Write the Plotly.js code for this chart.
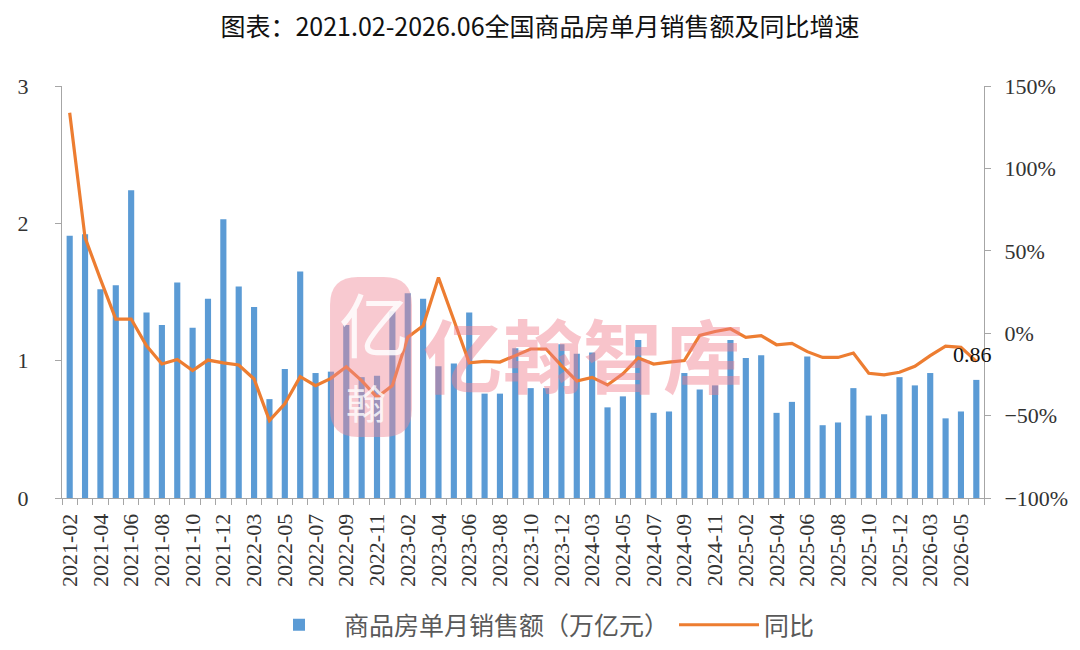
<!DOCTYPE html>
<html>
<head>
<meta charset="utf-8">
<script src="https://cdn.plot.ly/plotly-3.0.1.min.js"></script>
<style>html,body{margin:0;padding:0;background:#fff;}#chart{width:1080px;height:650px;}</style>
</head>
<body>
<div id="chart"></div>
<script>
// Categories (January merged into February, as in the source)
const months = [
  "2021-02","2021-03","2021-04","2021-05","2021-06","2021-07","2021-08","2021-09","2021-10","2021-11","2021-12",
  "2022-02","2022-03","2022-04","2022-05","2022-06","2022-07","2022-08","2022-09","2022-10","2022-11","2022-12",
  "2023-02","2023-03","2023-04","2023-05","2023-06","2023-07","2023-08","2023-09","2023-10","2023-11","2023-12",
  "2024-02","2024-03","2024-04","2024-05","2024-06","2024-07","2024-08","2024-09","2024-10","2024-11","2024-12",
  "2025-02","2025-03","2025-04","2025-05","2025-06","2025-07","2025-08","2025-09","2025-10","2025-11","2025-12",
  "2026-02","2026-03","2026-04","2026-05","2026-06"
];
// Monthly sales of commercial housing (trillion yuan)
const sales = [
  1.91,1.92,1.52,1.55,2.24,1.35,1.26,1.57,1.24,1.45,2.03,
  1.54,1.39,0.72,0.94,1.65,0.91,0.92,1.26,0.88,0.89,1.36,
  1.49,1.45,0.96,0.98,1.35,0.76,0.76,1.09,0.80,0.80,1.12,
  1.05,1.06,0.66,0.74,1.15,0.62,0.63,0.91,0.79,0.82,1.15,
  1.02,1.04,0.62,0.70,1.03,0.53,0.55,0.80,0.60,0.61,0.88,
  0.82,0.91,0.58,0.63,0.86
];
// Year-on-year growth (%)
const yoy = [
  133.8,58.0,32.8,8.6,8.6,-7.6,-18.7,-15.9,-22.7,-16.3,-18.0,
  -19.3,-27.8,-53.0,-42.9,-26.4,-31.8,-27.4,-20.4,-28.8,-38.9,-31.8,
  -2.5,4.5,33.8,7.5,-18.0,-17.1,-17.5,-13.6,-9.6,-9.6,-19.7,
  -29.0,-26.8,-31.4,-24.7,-15.0,-18.7,-17.6,-16.6,-1.3,1.0,2.7,
  -2.5,-1.5,-7.0,-6.2,-11.2,-14.7,-14.7,-12.0,-24.3,-25.3,-23.7,
  -20.1,-13.6,-7.8,-8.6,-17.1
];
// Tick labels: every other category is labelled
const tickLabels = months.map((m, i) => (i % 2 === 0 ? m : ""));

const chartTitle = "图表：2021.02-2026.06全国商品房单月销售额及同比增速";
const barName = "商品房单月销售额（万亿元）";
const lineName = "同比";

const L = 62, R = 984, T = 86, B = 498;
const W = 1080, H = 650;
const px = x => (x - L) / (R - L);
const py = y => (B - y) / (B - T);

const serif = "Liberation Serif, Times New Roman, serif";
const cjk = "Noto Sans CJK SC, Noto Sans, sans-serif";
const axisColor = "#A6A6A6";

const traces = [
  {
    type: "bar", name: barName, x: months, y: sales,
    marker: {color: "#5B9BD5"}, yaxis: "y", hoverinfo: "x+y"
  },
  {
    type: "scatter", mode: "lines", name: lineName, x: months, y: yoy,
    line: {color: "#ED7D31", width: 3.2}, yaxis: "y2"
  }
];

// watermark logo blob (decoration)
function rr(x0, y0, x1, y1, r) {
  const pts = [
    ["M", x0 + r, y0], ["L", x1 - r, y0], ["Q", x1, y0, x1, y0 + r],
    ["L", x1, y1 - r], ["Q", x1, y1, x1 - r, y1], ["L", x0 + r, y1],
    ["Q", x0, y1, x0, y1 - r], ["L", x0, y0 + r], ["Q", x0, y0, x0 + r, y0]
  ];
  return pts.map(p => {
    const c = p[0]; const v = p.slice(1);
    const out = [];
    for (let i = 0; i < v.length; i += 2) out.push(px(v[i]).toFixed(4) + "," + py(v[i + 1]).toFixed(4));
    return c + out.join(" ");
  }).join(" ") + " Z";
}

const last = sales.length - 1;

const layout = {
  width: W, height: H,
  margin: {l: L, r: W - R, t: T, b: H - B, pad: 0, autoexpand: false},
  paper_bgcolor: "#fff", plot_bgcolor: "#fff",
  title: {
    text: chartTitle, x: 0.5, xanchor: "center", y: 1 - 27 / H, yanchor: "middle",
    font: {family: cjk, size: 25, color: "#111"}
  },
  bargap: 0.6,
  showlegend: true,
  legend: {
    orientation: "h", x: px(537), xanchor: "center", y: py(625), yanchor: "middle",
    font: {family: cjk, size: 25, color: "#595959"}, itemwidth: 80,
    bgcolor: "rgba(0,0,0,0)"
  },
  xaxis: {
    type: "category", tickmode: "array", tickvals: months, ticktext: tickLabels,
    tickson: "boundaries", ticks: "outside", ticklen: 6, tickcolor: axisColor,
    tickangle: -90, ticklabelstandoff: 6, automargin: false,
    showline: true, linecolor: axisColor, linewidth: 1, showgrid: false,
    tickfont: {family: serif, size: 22, color: "#333"}, range: [-0.5, months.length - 0.5]
  },
  yaxis: {
    range: [0, 3], dtick: 1, tick0: 0, showgrid: false, zeroline: false, automargin: false,
    showline: true, linecolor: axisColor, ticks: "outside", ticklen: 6, tickcolor: axisColor,
    ticklabelstandoff: 22,
    tickfont: {family: serif, size: 22, color: "#333"}
  },
  yaxis2: {
    overlaying: "y", side: "right", range: [-100, 150], dtick: 50, tick0: 0,
    ticksuffix: "%", showgrid: false, zeroline: false, automargin: false,
    showline: true, linecolor: axisColor, ticks: "outside", ticklen: 6, tickcolor: axisColor,
    ticklabelstandoff: 9,
    tickfont: {family: serif, size: 22, color: "#333"}
  },
  shapes: [
    {
      type: "path", xref: "paper", yref: "paper", layer: "above",
      path: rr(330, 277, 412, 437, 28),
      fillcolor: "rgba(240,135,150,0.45)", line: {width: 0}
    }
  ],
  annotations: [
    {
      xref: "x", yref: "y", x: months[last], y: sales[last],
      text: sales[last].toFixed(2), showarrow: false, yanchor: "bottom", xanchor: "center",
      xshift: -4, yshift: 11, font: {family: serif, size: 22, color: "#111"}
    },
    {
      xref: "paper", yref: "paper", x: px(583), y: py(352), xanchor: "center", yanchor: "middle",
      text: "<b>亿翰智库</b>", showarrow: false,
      font: {family: cjk, size: 80, color: "rgba(240,125,140,0.45)"}
    },
    {
      xref: "paper", yref: "paper", x: px(374), y: py(322), xanchor: "center", yanchor: "middle",
      text: "亿", showarrow: false,
      font: {family: cjk, size: 70, color: "rgba(255,255,255,0.85)"}
    },
    {
      xref: "paper", yref: "paper", x: px(366), y: py(402), xanchor: "center", yanchor: "middle",
      text: "翰", showarrow: false,
      font: {family: cjk, size: 40, color: "rgba(255,255,255,0.8)"}
    }
  ]
};

Plotly.newPlot("chart", traces, layout, {displayModeBar: false, staticPlot: true});
</script>
</body>
</html>
